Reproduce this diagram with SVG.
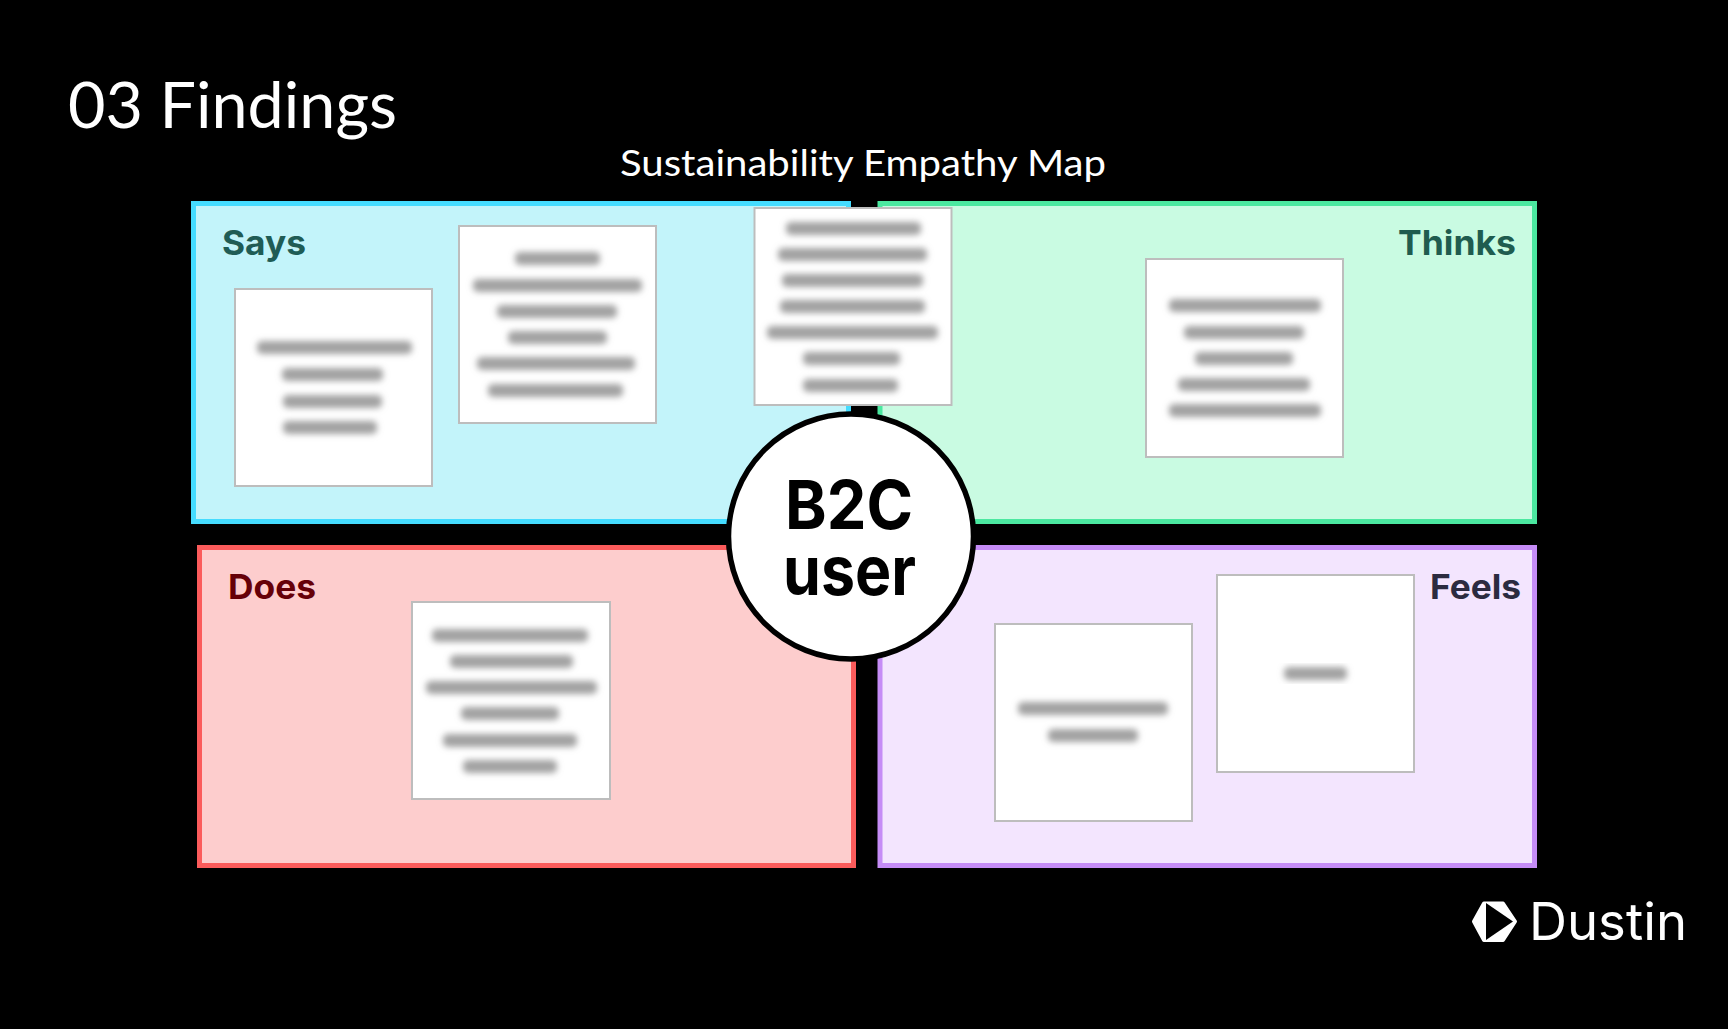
<svg xmlns="http://www.w3.org/2000/svg" width="1728" height="1029" viewBox="0 0 1728 1029">
<style>
.title{font-family:Lato,"Noto Sans",sans-serif;fill:#fff}
.lab{font-family:Inter,"Liberation Sans",sans-serif;font-weight:700;font-size:34px}
.note{fill:#fff;stroke:#bdbdbd;stroke-width:2}
.smudge rect{fill:#a2a2a2;rx:5px;height:13px}
.smudge{filter:url(#b)}
.core{font-family:Inter,"Liberation Sans",sans-serif;font-weight:700;font-size:68px;fill:#000}
</style>
<defs><filter id="b" x="-15%" y="-25%" width="130%" height="150%"><feGaussianBlur stdDeviation="3.2"/></filter></defs>
<rect width="1728" height="1029" fill="#000"/>
<text class="title" x="68" y="128" font-size="64" textLength="329" lengthAdjust="spacingAndGlyphs">03 Findings</text>
<text class="title" x="620" y="176" font-size="37" textLength="486" lengthAdjust="spacingAndGlyphs">Sustainability Empathy Map</text>

<g id="says">
<rect x="193.500" y="203.500" width="655" height="318" fill="#c3f4fa" stroke="#45dcff" stroke-width="5"/>
<text class="lab" x="222" y="255" fill="#1f5c55" textLength="84" lengthAdjust="spacingAndGlyphs">Says</text>
</g>
<g id="thinks">
<rect x="880" y="203.500" width="654.500" height="318" fill="#c9fbe2" stroke="#4be8a0" stroke-width="5"/>
<text class="lab" x="1398" y="255" fill="#1f5c4f" textLength="118" lengthAdjust="spacingAndGlyphs">Thinks</text>
</g>
<g id="does">
<rect x="199.500" y="547.500" width="654" height="318" fill="#fdcdcd" stroke="#fb5b5b" stroke-width="5"/>
<text class="lab" x="228" y="599" fill="#660008" textLength="88" lengthAdjust="spacingAndGlyphs">Does</text>
</g>
<g id="feels">
<rect x="880" y="547.500" width="654.500" height="318" fill="#f3e5fe" stroke="#c58cf6" stroke-width="5"/>
<text class="lab" x="1430" y="599" fill="#2b2b40" textLength="91" lengthAdjust="spacingAndGlyphs">Feels</text>
</g>

<g id="note-says-1"><rect class="note" x="235" y="289" width="197" height="197"/>
<g class="smudge"><rect x="257" y="341" width="155"/><rect x="282" y="368" width="101"/><rect x="283" y="395" width="99"/><rect x="283" y="421" width="94"/></g></g>
<g id="note-says-2"><rect class="note" x="459" y="226" width="197" height="197"/>
<g class="smudge"><rect x="515" y="252" width="85"/><rect x="473" y="279" width="169"/><rect x="497" y="305" width="120"/><rect x="508" y="331" width="99"/><rect x="477" y="357" width="158"/><rect x="488" y="384" width="135"/></g></g>
<g id="note-says-3"><rect class="note" x="754.500" y="208" width="197" height="197"/>
<g class="smudge"><rect x="786" y="222" width="135"/><rect x="778" y="248" width="149"/><rect x="782" y="274" width="141"/><rect x="780" y="300" width="145"/><rect x="767" y="326" width="171"/><rect x="803" y="352" width="97"/><rect x="803" y="379" width="95"/></g></g>
<g id="note-thinks"><rect class="note" x="1146" y="259" width="197" height="198"/>
<g class="smudge"><rect x="1169" y="299" width="152"/><rect x="1184" y="326" width="120"/><rect x="1195" y="352" width="98"/><rect x="1178" y="378" width="132"/><rect x="1169" y="404" width="152"/></g></g>
<g id="note-does"><rect class="note" x="412" y="602" width="198" height="197"/>
<g class="smudge"><rect x="432" y="629" width="156"/><rect x="450" y="655" width="123"/><rect x="426" y="681" width="171"/><rect x="461" y="707" width="98"/><rect x="443" y="734" width="134"/><rect x="463" y="760" width="94"/></g></g>
<g id="note-feels-1"><rect class="note" x="995" y="624" width="197" height="197"/>
<g class="smudge"><rect x="1018" y="702" width="150"/><rect x="1048" y="729" width="90"/></g></g>
<g id="note-feels-2"><rect class="note" x="1217" y="575" width="197" height="197"/>
<g class="smudge"><rect x="1284" y="667" width="63"/></g></g>

<g id="center">
<circle cx="851" cy="536.500" r="122.500" fill="#fff" stroke="#000" stroke-width="5.500"/>
<text class="core" x="785" y="529" textLength="128" lengthAdjust="spacingAndGlyphs">B2C</text>
<text class="core" x="783" y="595" textLength="133" lengthAdjust="spacingAndGlyphs">user</text>
</g>

<g id="logo">
<path d="M1474 921.500L1484 903.500H1503L1515 921.500L1503 940H1484Z" fill="#fff" stroke="#fff" stroke-width="4" stroke-linejoin="round"/>
<path d="M1486 903L1513 921.500L1486 940Z" fill="#000"/>
<text x="1529" y="940" font-family="Inter,'Liberation Sans',sans-serif" font-weight="400" font-size="52" fill="#fff" textLength="158" lengthAdjust="spacingAndGlyphs">Dustin</text>
</g>
</svg>
